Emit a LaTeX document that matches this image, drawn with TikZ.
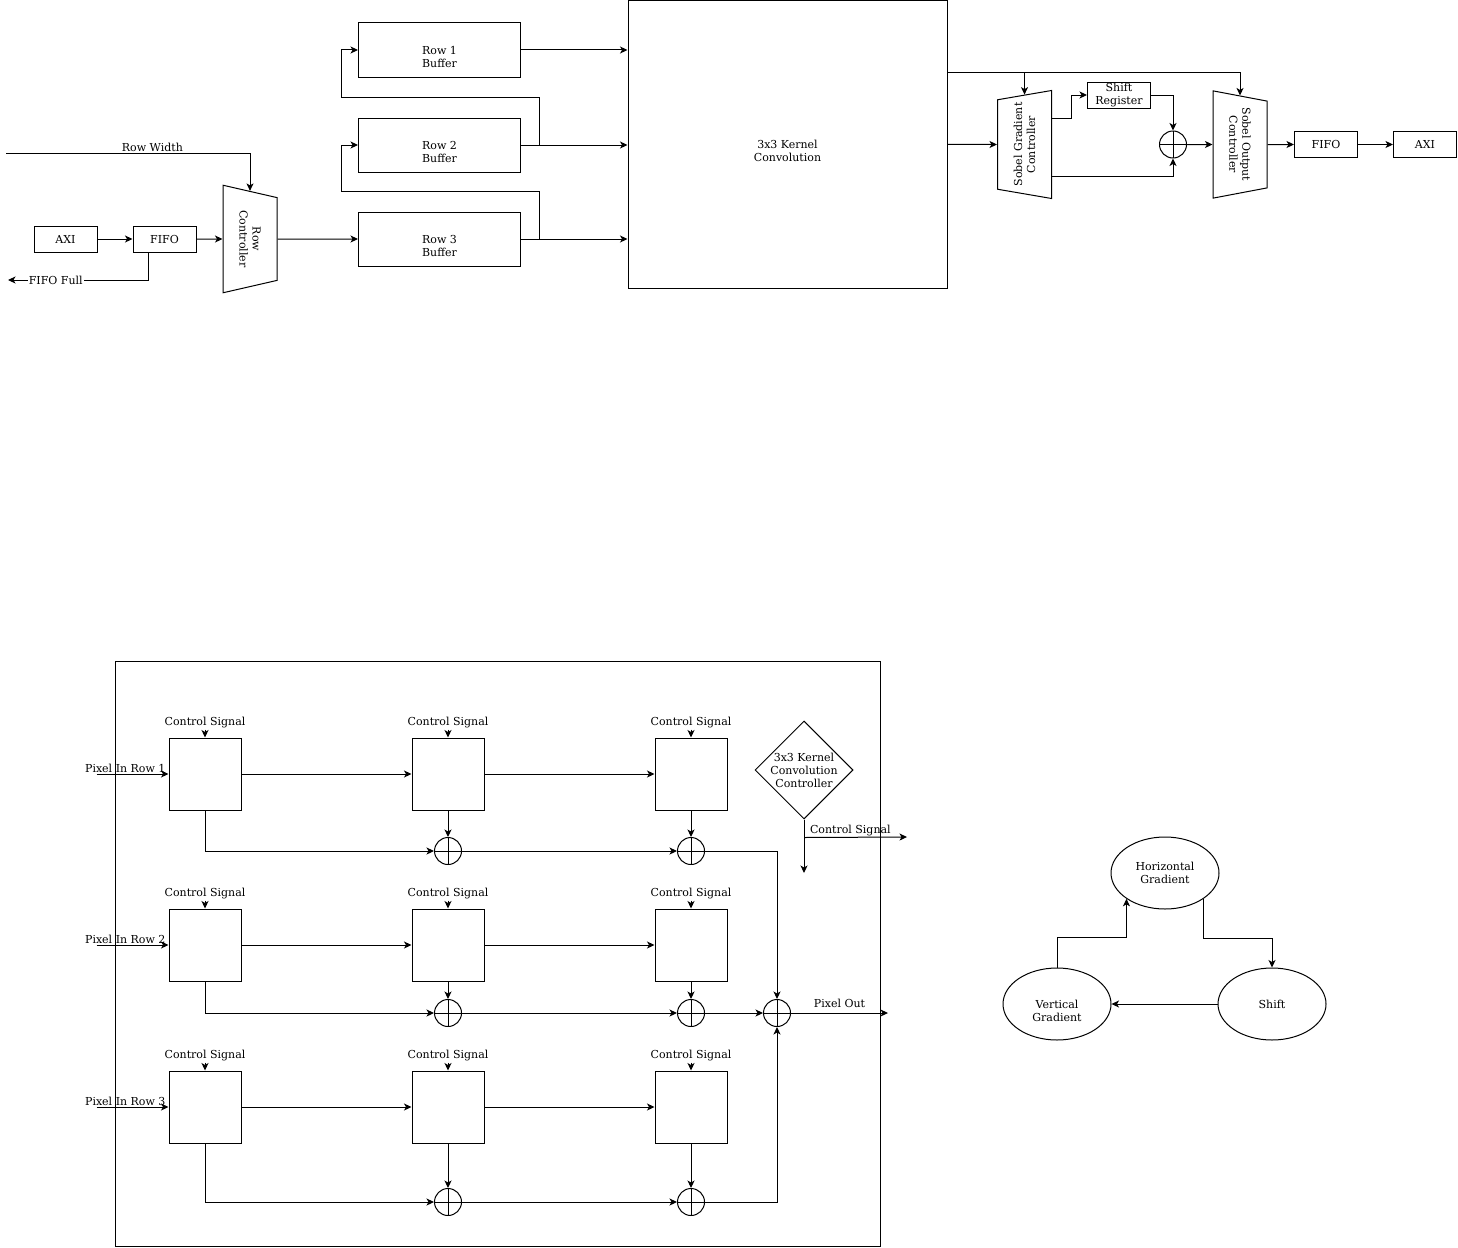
\documentclass[tikz,border=0pt]{standalone}
\usepackage{fontspec}
\setmainfont{DejaVu Serif}
\usepackage{tikz}
\usetikzlibrary{arrows.meta,shapes,positioning}
\tikzstyle{blockbox} = [rectangle, draw, minimum width=63pt, minimum height=26pt, inner sep=0pt, align=center]
\tikzstyle{bufbox} = [rectangle, draw, minimum width=162pt, minimum height=54pt, align=center]
\tikzstyle{pebox} = [rectangle, draw, minimum width=72pt, minimum height=72pt]
\tikzstyle{ctrlshape} = [trapezium, draw, trapezium angle=68, trapezium stretches=true, minimum width=108pt, minimum height=54pt, inner sep=0pt, align=center]
\tikzstyle{adder} = [circle, draw, minimum size=27pt, inner sep=0pt, path picture={\draw (path picture bounding box.north) -- (path picture bounding box.south) (path picture bounding box.west) -- (path picture bounding box.east);}]
\tikzstyle{gradnode} = [ellipse, draw, minimum width=108pt, minimum height=72pt, inner sep=1pt, align=center]
\tikzstyle{sig} = [inner sep=1pt]
\tikzstyle{lowtext} = [align=center, yshift=-6.5pt]
\tikzstyle{arrow} = [->, >={Stealth[length=7.5pt, width=7pt, inset=2pt]}]

\begin{document}
\begin{tikzpicture}[x=1pt, y=-1pt, line width=1pt, font=\fontsize{11}{13}\selectfont]
\useasboundingbox (0,0) rectangle (1458,1247);

% Input side
\node[blockbox] (axiin) at (65.5,239) {AXI};
\node[blockbox, right=35pt of axiin] (fifoin) {FIFO};
\node[ctrlshape, rotate=-90] (rowctl) at (250,239) {Row\\Controller};
\coordinate (rwin) at (6,153);
\coordinate (fullout) at (8,280);

\draw[arrow] (axiin) -- (fifoin);
\draw[arrow] (fifoin) -- (rowctl.south);
\draw[arrow] (rwin) -| (rowctl) node[pos=0.3, above, sig] {Row Width};
\draw[arrow] ([xshift=-16pt]fifoin.south) |- (fullout) node[pos=0.83, fill=white, sig] {FIFO Full};

% Row buffers
\node[bufbox, label={[lowtext]center:{Row 1\\Buffer}}] (buf1) at (439.5,50) {};
\node[bufbox, label={[lowtext]center:{Row 2\\Buffer}}] (buf2) at (439.5,145) {};
\node[bufbox, label={[lowtext]center:{Row 3\\Buffer}}] (buf3) at (439.5,239) {};
\node[draw, minimum width=319pt, minimum height=288pt, label={[lowtext]center:{3x3 Kernel\\Convolution}}] (conv) at (787.5,144.5) {};

\draw[arrow] (rowctl.north) -- (buf3);
\draw[arrow] (buf1) -- (buf1 -| conv.west);
\draw[arrow] (buf2) -- (buf2 -| conv.west);
\draw[arrow] (buf3) -- (buf3 -| conv.west);
\draw[arrow] ([xshift=18pt]buf2.east) -- ++(0,-48) -| ([xshift=-17pt]buf1.west) -- (buf1.west);
\draw[arrow] ([xshift=18pt]buf3.east) -- ++(0,-48) -| ([xshift=-17pt]buf2.west) -- (buf2.west);

% Sobel stage
\node[ctrlshape, rotate=90] (sobgrad) at (1024.5,144.5) {Sobel Gradient\\Controller};
\node[blockbox] (shreg) at (1119,95) {Shift\\Register};
\node[adder] (addsob) at (1173,144.5) {};
\node[ctrlshape, rotate=-90] (sobout) at (1240,144.5) {Sobel Output\\Controller};
\node[blockbox] (fifoout) at (1326,144.5) {FIFO};
\node[blockbox] (axiout) at (1425,144.5) {AXI};

\draw[arrow] (conv) -- (sobgrad.north);
\draw[arrow] ([yshift=-72pt]conv.north east) -| (sobgrad);
\draw[arrow] ([yshift=-72pt]conv.north east) -| (sobout);
\draw[arrow] ([yshift=26pt]sobgrad.south) -- ++(19,0) |- (shreg);
\draw[arrow] (shreg) -| (addsob);
\draw[arrow] ([yshift=-32pt]sobgrad.south) -| (addsob);
\draw[arrow] (addsob) -- (sobout.south);
\draw[arrow] (sobout.north) -- (fifoout);
\draw[arrow] (fifoout) -- (axiout);

% Kernel convolution detail
\draw (115,661) rectangle (880,1246);

% Row 1
\node[pebox] (pe11) at (205,774) {};
\node[pebox, right=170pt of pe11] (pe12) {};
\node[pebox, right=170pt of pe12] (pe13) {};
\node[sig, above=8pt of pe11] (cs11) {Control Signal};
\node[sig, above=8pt of pe12] (cs12) {Control Signal};
\node[sig, above=8pt of pe13] (cs13) {Control Signal};
\node[adder] (ad12) at (448,851) {};
\node[adder] (ad13) at (691,851) {};
\coordinate[left=72pt of pe11] (pin1);

% Row 2
\node[pebox] (pe21) at (205,945) {};
\node[pebox, right=170pt of pe21] (pe22) {};
\node[pebox, right=170pt of pe22] (pe23) {};
\node[sig, above=8pt of pe21] (cs21) {Control Signal};
\node[sig, above=8pt of pe22] (cs22) {Control Signal};
\node[sig, above=8pt of pe23] (cs23) {Control Signal};
\node[adder] (ad22) at (448,1013) {};
\node[adder] (ad23) at (691,1013) {};
\node[adder] (adout) at (777,1013) {};
\coordinate[left=72pt of pe21] (pin2);

% Row 3
\node[pebox] (pe31) at (205,1107) {};
\node[pebox, right=170pt of pe31] (pe32) {};
\node[pebox, right=170pt of pe32] (pe33) {};
\node[sig, above=8pt of pe31] (cs31) {Control Signal};
\node[sig, above=8pt of pe32] (cs32) {Control Signal};
\node[sig, above=8pt of pe33] (cs33) {Control Signal};
\node[adder] (ad32) at (448,1202) {};
\node[adder] (ad33) at (691,1202) {};
\coordinate[left=72pt of pe31] (pin3);

\draw[arrow] (cs11) -- (pe11);
\draw[arrow] (cs12) -- (pe12);
\draw[arrow] (cs13) -- (pe13);
\draw[arrow] (cs21) -- (pe21);
\draw[arrow] (cs22) -- (pe22);
\draw[arrow] (cs23) -- (pe23);
\draw[arrow] (cs31) -- (pe31);
\draw[arrow] (cs32) -- (pe32);
\draw[arrow] (cs33) -- (pe33);

\draw[arrow] (pin1) -- (pe11) node[pos=0.4, above, sig] {Pixel In Row 1};
\draw[arrow] (pe11) -- (pe12);
\draw[arrow] (pe12) -- (pe13);
\draw[arrow] (pe11) |- (ad12);
\draw[arrow] (pe12) -- (ad12);
\draw[arrow] (ad12) -- (ad13);
\draw[arrow] (pe13) -- (ad13);
\draw[arrow] (ad13) -| (adout);

\draw[arrow] (pin2) -- (pe21) node[pos=0.4, above, sig] {Pixel In Row 2};
\draw[arrow] (pe21) -- (pe22);
\draw[arrow] (pe22) -- (pe23);
\draw[arrow] (pe21) |- (ad22);
\draw[arrow] (pe22) -- (ad22);
\draw[arrow] (ad22) -- (ad23);
\draw[arrow] (pe23) -- (ad23);
\draw[arrow] (ad23) -- (adout);

\draw[arrow] (pin3) -- (pe31) node[pos=0.4, above, sig] {Pixel In Row 3};
\draw[arrow] (pe31) -- (pe32);
\draw[arrow] (pe32) -- (pe33);
\draw[arrow] (pe31) |- (ad32);
\draw[arrow] (pe32) -- (ad32);
\draw[arrow] (ad32) -- (ad33);
\draw[arrow] (pe33) -- (ad33);
\draw[arrow] (ad33) -| (adout);

\coordinate (pixout) at (888,1013);
\draw[arrow] (adout) -- (pixout) node[midway, above=4pt, sig] {Pixel Out};

% Controller
\node[diamond, draw, minimum width=98pt, minimum height=98pt, inner sep=0pt] (kctl) at (804,770) {};
\node[align=center] (kctltext) at (kctl) {3x3 Kernel\\Convolution\\Controller};
\coordinate (kdown) at (804,873);
\coordinate (kright) at (907,837);
\draw[arrow] (kctl.south) -- (kdown);
\draw[arrow] ([yshift=-18pt]kctl.south) -- (kright) node[pos=0.45, above, sig] {Control Signal};

% Gradient loop
\node[gradnode] (hgrad) at (1165,873) {Horizontal\\Gradient};
\node[gradnode, label={[lowtext]center:{Vertical\\Gradient}}] (vgrad) at (1057,1004) {};
\node[gradnode] (shiftst) at (1272,1004) {Shift};

\draw[arrow] (vgrad.north) -- ++(0,-30) -| (hgrad.south west);
\draw[arrow] (hgrad.south east) -- ++(0,40) -| (shiftst.north);
\draw[arrow] (shiftst) -- (vgrad);
\end{tikzpicture}
\end{document}
